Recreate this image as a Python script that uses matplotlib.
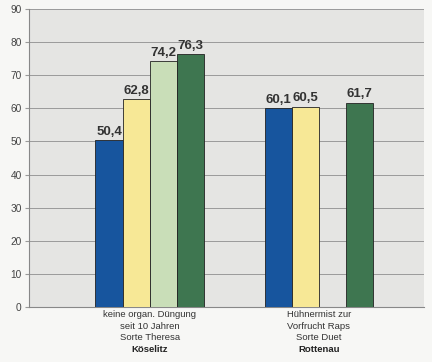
import matplotlib
matplotlib.use('Agg')
import matplotlib.pyplot as plt
from matplotlib import font_manager as fm
import numpy as np

# use the regular-width Liberation Sans files if present
reg_file = None
bold_file = None
for f in fm.fontManager.ttflist:
    base = f.fname.split('/')[-1]
    if base == 'LiberationSans-Regular.ttf':
        reg_file = f.fname
    if base == 'LiberationSans-Bold.ttf':
        bold_file = f.fname
fp_reg = fm.FontProperties(fname=reg_file) if reg_file else fm.FontProperties(family='DejaVu Sans')
fp_bold = fm.FontProperties(fname=bold_file) if bold_file else fm.FontProperties(family='DejaVu Sans', weight='bold')

groups = [['keine organ. Düngung', 'seit 10 Jahren', 'Sorte Theresa'],
          ['Hühnermist zur', 'Vorfrucht Raps', 'Sorte Duet']]
places = ['Köselitz', 'Rottenau']
s1 = [50.4, 60.1]
s2 = [62.8, 60.5]
s3 = [74.2, np.nan]
s4 = [76.3, 61.7]
labels_txt = [['50,4', '60,1'], ['62,8', '60,5'], ['74,2', ''], ['76,3', '61,7']]
colors = ['#17559e', '#f7e896', '#c9deb8', '#3e7650']

fig = plt.figure(figsize=(4.32, 3.62), dpi=100)
fig.patch.set_facecolor('#f7f7f5')
ax = fig.add_axes([0.066, 0.152, 0.915, 0.823])
ax.set_facecolor('#e5e5e3')

x = np.arange(len(groups))
w = 0.16
for i, vals in enumerate([s1, s2, s3, s4]):
    pos = x + (i - 1.5) * w
    ax.bar(pos, vals, w, color=colors[i], edgecolor='#222222', linewidth=0.6, zorder=3)
    for p, v, t in zip(pos, vals, labels_txt[i]):
        if t:
            ax.text(p, v + 0.7, t, ha='center', va='bottom', fontproperties=fp_bold,
                    fontsize=9.5, color='#333333', zorder=4)

ax.set_ylim(0, 90)
ax.set_xlim(-0.716, 1.621)
ax.set_yticks(np.arange(0, 91, 10))
ax.yaxis.grid(True, color='#9a9a9a', linewidth=0.7, zorder=0)
ax.tick_params(axis='y', colors='#999999', labelcolor='#444444', length=3, pad=2)
for lab in ax.get_yticklabels():
    lab.set_fontproperties(fp_reg)
    lab.set_fontsize(7.3)
ax.set_xticks([])
for sp in ['top', 'right']:
    ax.spines[sp].set_visible(False)
ax.spines['left'].set_color('#888888')
ax.spines['bottom'].set_color('#888888')

line_y = [-2.4, -5.8, -9.3]
for xi, g, pl in zip(x, groups, places):
    for ly, line in zip(line_y, g):
        ax.text(xi, ly, line, ha='center', va='center', fontproperties=fp_reg,
                fontsize=6.8, color='#333333', clip_on=False)
    ax.text(xi, -12.7, pl, ha='center', va='center', fontproperties=fp_bold,
            fontsize=6.8, color='#222222', clip_on=False)

plt.savefig('out.png', dpi=100, facecolor=fig.get_facecolor())
